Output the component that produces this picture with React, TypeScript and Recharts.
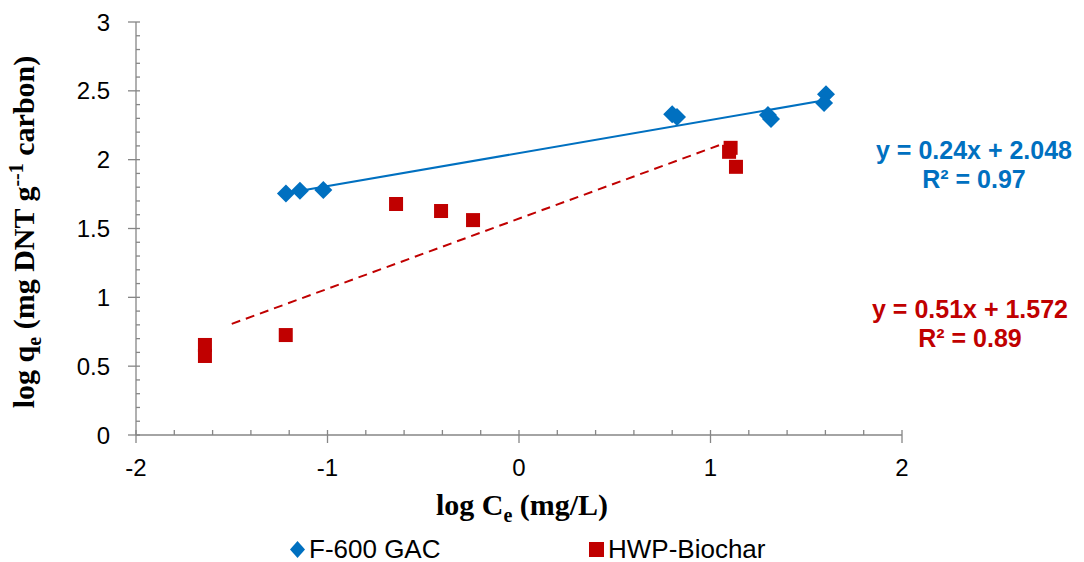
import React from 'react';
import { ScatterChart, Scatter, XAxis, YAxis, Label } from 'recharts';

// F-600 GAC isotherm points (log Ce, log qe)
const gacX = [-1.217, -1.144, -1.022, 0.8, 0.825, 1.3, 1.316, 1.603, 1.593];
const gacY = [1.755, 1.774, 1.779, 2.33, 2.31, 2.324, 2.295, 2.476, 2.411];

// HWP-Biochar isotherm points
const hwpX = [-1.64, -1.64, -1.218, -0.642, -0.407, -0.24, 1.105, 1.097, 1.133];
const hwpY = [0.654, 0.574, 0.726, 1.678, 1.627, 1.561, 2.086, 2.057, 1.948];

// fitted lines as printed on the chart
const gacFit = { slope: 0.24, intercept: 2.048, from: -1.217, to: 1.603 };
const hwpFit = { slope: 0.51, intercept: 1.572, from: -1.5, to: 1.09 };

const gacEq = ['y = 0.24x + 2.048', 'R² = 0.97'];
const hwpEq = ['y = 0.51x + 1.572', 'R² = 0.89'];

const xTicks = [-2, -1.8, -1.6, -1.4, -1.2, -1, -0.8, -0.6, -0.4, -0.2, 0, 0.2, 0.4, 0.6, 0.8, 1, 1.2, 1.4, 1.6, 1.8, 2];
const yTicks = [0, 0.1, 0.2, 0.3, 0.4, 0.5, 0.6, 0.7, 0.8, 0.9, 1, 1.1, 1.2, 1.3, 1.4, 1.5, 1.6, 1.7, 1.8, 1.9, 2, 2.1, 2.2, 2.3, 2.4, 2.5, 2.6, 2.7, 2.8, 2.9, 3];

const BLUE = '#0070C0';
const RED = '#C00000';
const AXIS = '#868686';
const SANS = '"Liberation Sans", Arial, sans-serif';
const SERIF = '"Liberation Serif", "Times New Roman", serif';

const gac = gacX.map((x, i) => ({ x, y: gacY[i] }));
const hwp = hwpX.map((x, i) => ({ x, y: hwpY[i] }));
const fitLine = (f: typeof gacFit) => [f.from, f.to].map((x) => ({ x, y: f.slope * x + f.intercept }));

const Diamond = (props: any) => {
    const { cx, cy } = props;
    const r = 9;
    return <polygon points={`${cx},${cy - r} ${cx + r},${cy} ${cx},${cy + r} ${cx - r},${cy}`} fill={BLUE} />;
};

const Square = (props: any) => {
    const { cx, cy } = props;
    return <rect x={cx - 7} y={cy - 7} width={14} height={14} fill={RED} />;
};

const NoShape = () => <g />;

const isWhole = (v: number, step: number) => Math.abs(v / step - Math.round(v / step)) < 1e-6;

const XTick = (props: any) => {
    const { x, y, payload } = props;
    const major = isWhole(payload.value, 1);
    return (
        <g>
            <line x1={x} x2={x} y1={y - 5} y2={major ? y + 8 : y} stroke={AXIS} strokeWidth={1.3} />
            {major && (
                <text x={x} y={y + 41} textAnchor="middle" fontFamily={SANS} fontSize={24} fill="#000">
                    {payload.value}
                </text>
            )}
        </g>
    );
};

const YTick = (props: any) => {
    const { x, y, payload } = props;
    const major = isWhole(payload.value, 0.5);
    return (
        <g>
            <line x1={major ? x - 8 : x} x2={x + 4} y1={y} y2={y} stroke={AXIS} strokeWidth={1.3} />
            {major && (
                <text x={x - 26} y={y + 8.5} textAnchor="end" fontFamily={SANS} fontSize={24} fill="#000">
                    {payload.value}
                </text>
            )}
        </g>
    );
};

const XTitle = (props: any) => {
    const vb = props.viewBox || { x: 136, y: 435, width: 766 };
    return (
        <text x={vb.x + vb.width / 2 + 3} y={vb.y + 80} textAnchor="middle" fontFamily={SERIF} fontWeight="bold" fontSize={30} fill="#000">
            <tspan>log C</tspan>
            <tspan dy={7} fontSize={20}>e</tspan>
            <tspan dy={-7}> (mg/L)</tspan>
        </text>
    );
};

const YTitle = () => {
    const cx = 34;
    const cy = 232;
    return (
        <text x={cx} y={cy} transform={`rotate(-90 ${cx} ${cy})`} textAnchor="middle" fontFamily={SERIF} fontWeight="bold" fontSize={30} fill="#000">
            <tspan>log q</tspan>
            <tspan dy={7} fontSize={20}>e</tspan>
            <tspan dy={-7}> (mg DNT g</tspan>
            <tspan dy={-11} fontSize={20}>--1</tspan>
            <tspan dy={11}> carbon)</tspan>
        </text>
    );
};

const eqStyle = (top: number, left: number, color: string): React.CSSProperties => ({
    position: 'absolute',
    top,
    left,
    width: 240,
    textAlign: 'center',
    fontFamily: SANS,
    fontWeight: 'bold',
    fontSize: 25,
    lineHeight: '29px',
    color,
});

const App: React.FC = () => {
    return (
        <div style={{ position: 'absolute', left: 0, top: 0, width: 1084, height: 562, background: '#fff' }}>
            <ScatterChart width={1084} height={562} margin={{ top: 22, right: 182, bottom: 0, left: 0 }}>
                <XAxis
                    type="number"
                    dataKey="x"
                    domain={[-2, 2]}
                    ticks={xTicks}
                    interval={0}
                    tick={XTick}
                    tickLine={false}
                    tickSize={0}
                    tickMargin={0}
                    axisLine={{ stroke: AXIS, strokeWidth: 1.3 }}
                    height={127}
                    allowDataOverflow
                >
                    <Label content={XTitle} />
                </XAxis>
                <YAxis
                    type="number"
                    dataKey="y"
                    domain={[0, 3]}
                    ticks={yTicks}
                    interval={0}
                    tick={YTick}
                    tickLine={false}
                    tickSize={0}
                    tickMargin={0}
                    axisLine={{ stroke: AXIS, strokeWidth: 1.3 }}
                    width={136}
                    allowDataOverflow
                >
                    <Label content={YTitle} />
                </YAxis>
                <Scatter data={fitLine(gacFit)} line={{ stroke: BLUE, strokeWidth: 2 }} shape={NoShape} isAnimationActive={false} />
                <Scatter
                    data={fitLine(hwpFit)}
                    line={{ stroke: RED, strokeWidth: 2, strokeDasharray: '9 6' }}
                    shape={NoShape}
                    isAnimationActive={false}
                />
                <Scatter name="F-600 GAC" data={gac} shape={Diamond} isAnimationActive={false} />
                <Scatter name="HWP-Biochar" data={hwp} shape={Square} isAnimationActive={false} />
            </ScatterChart>

            <div style={eqStyle(136, 854, BLUE)}>
                <div>{gacEq[0]}</div>
                <div>{gacEq[1]}</div>
            </div>
            <div style={eqStyle(295, 850, RED)}>
                <div>{hwpEq[0]}</div>
                <div>{hwpEq[1]}</div>
            </div>

            <div style={{ position: 'absolute', top: 534, left: 289, display: 'flex', alignItems: 'center', fontFamily: SANS, fontSize: 26, color: '#000' }}>
                <svg width={17} height={17} style={{ marginRight: 3 }}>
                    <polygon points="8.5,0 16,8.5 8.5,17 1,8.5" fill={BLUE} />
                </svg>
                <span>F-600 GAC</span>
            </div>
            <div style={{ position: 'absolute', top: 534, left: 589, display: 'flex', alignItems: 'center', fontFamily: SANS, fontSize: 26, color: '#000' }}>
                <svg width={15} height={15} style={{ marginRight: 4 }}>
                    <rect x={0} y={0} width={15} height={15} fill={RED} />
                </svg>
                <span>HWP-Biochar</span>
            </div>
        </div>
    );
};

export default App;
